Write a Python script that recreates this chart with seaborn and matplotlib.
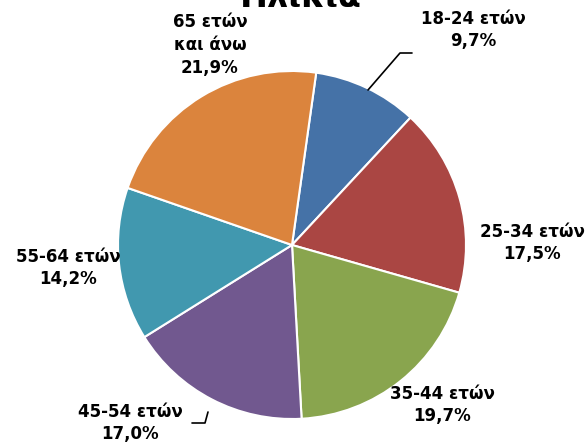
import matplotlib
matplotlib.use("Agg")
import matplotlib.pyplot as plt
import seaborn as sns

# Data
categories = ["18-24 ετών", "25-34 ετών", "35-44 ετών", "45-54 ετών", "55-64 ετών", "65 ετών\nκαι άνω"]
shares = [9.7, 17.5, 19.7, 17.0, 14.2, 21.9]
colors = ["#4572A7", "#AA4643", "#89A54E", "#71588F", "#4198AF", "#DB843D"]

# label anchor positions (pixels from top-left)
label_pos = [(473, 30), (532, 243), (442, 405), (130, 423), (68, 268), (210, 45)]

sns.set_theme(style="white")
plt.rcParams["font.family"] = ["DejaVu Sans"]

W, H = 586, 446
fig = plt.figure(figsize=(W / 100, H / 100), dpi=100)
ax = fig.add_axes([0, 0, 1, 1])
ax.set_xlim(0, W)
ax.set_ylim(0, H)
ax.axis("off")

cx, cy, r = 292, 245, 174
ax.pie(shares, colors=colors, startangle=82, counterclock=False,
       center=(cx, H - cy), radius=r, frame=True,
       wedgeprops=dict(edgecolor="white", linewidth=1.5))
ax.set_xlim(0, W)
ax.set_ylim(0, H)
ax.axis("off")

for cat, val, (x, y) in zip(categories, shares, label_pos):
    txt = f"{cat}\n{val:.1f}%".replace(".", ",")
    ax.text(x, H - y, txt, ha="center", va="center", fontsize=12,
            fontweight="bold", color="black", linespacing=1.35)

# leader lines
ax.plot([368, 400, 412], [H - 90, H - 53, H - 53], color="black", lw=1.2)
ax.plot([192, 205, 208], [H - 423, H - 423, H - 412], color="black", lw=1.2)

ax.text(301, H - 7, "Ηλικία", ha="center", va="baseline", fontsize=24,
        fontweight="bold", color="black")

fig.savefig("out.png", dpi=100)
